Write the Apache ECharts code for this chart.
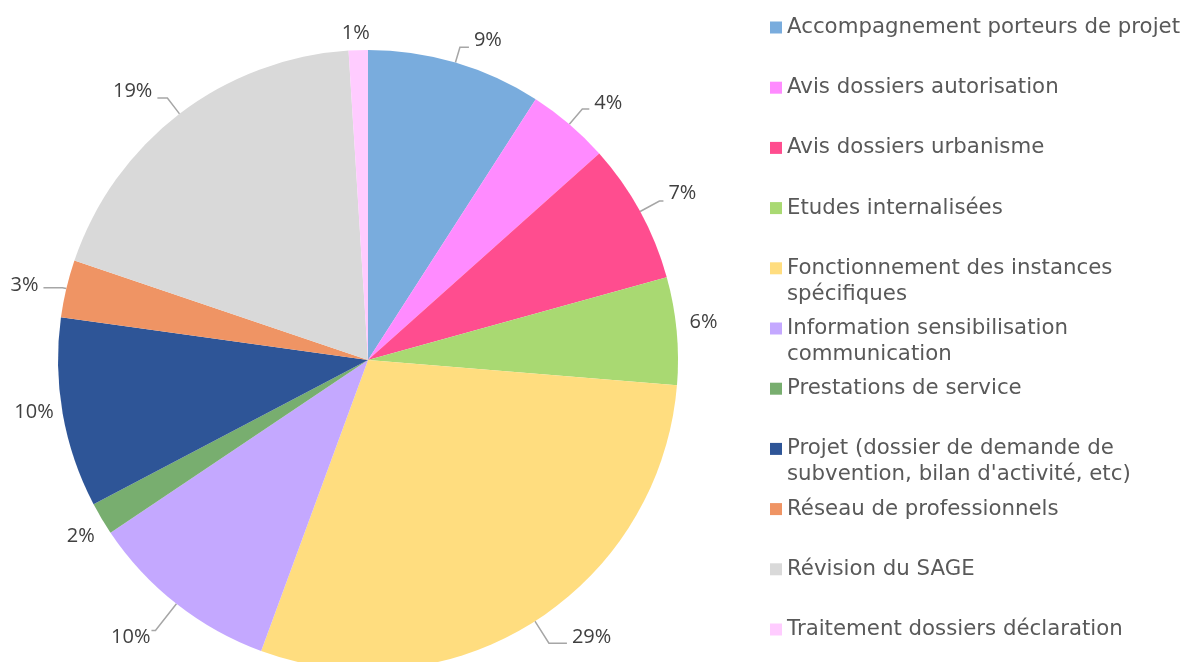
<!DOCTYPE html>
<html>
<head>
<meta charset="utf-8">
<script src="https://cdn.jsdelivr.net/npm/echarts@6/dist/echarts.min.js"></script>
<style>
  html, body { margin: 0; padding: 0; background: #fff; }
  #chart { width: 1185px; height: 662px; }
</style>
</head>
<body>
<div id="chart"></div>
<script>
(function(){
  // Catégories et parts (en %)
  const categories = [
    "Accompagnement porteurs de projet",
    "Avis dossiers autorisation",
    "Avis dossiers urbanisme",
    "Etudes internalisées",
    "Fonctionnement des instances spécifiques",
    "Information sensibilisation communication",
    "Prestations de service",
    "Projet (dossier de demande de subvention, bilan d'activité, etc)",
    "Réseau de professionnels",
    "Révision du SAGE",
    "Traitement dossiers déclaration"
  ];
  const shares = [9.1, 4.3, 7.3, 5.6, 29.3, 10.0, 1.7, 9.9, 3.0, 18.8, 1.0];
  // libellés de légende coupés comme dans l'original
  const legendLabels = [
    "Accompagnement porteurs de projet",
    "Avis dossiers autorisation",
    "Avis dossiers urbanisme",
    "Etudes internalisées",
    "Fonctionnement des instances\nspécifiques",
    "Information sensibilisation\ncommunication",
    "Prestations de service",
    "Projet (dossier de demande de\nsubvention, bilan d'activité, etc)",
    "Réseau de professionnels",
    "Révision du SAGE",
    "Traitement dossiers déclaration"
  ];
  const colors = [
    "#79acdd", "#ff8bff", "#ff4d8f", "#a9d972", "#ffdd7f", "#c4a8ff",
    "#78ae6f", "#2e5597", "#ef9464", "#d9d9d9", "#ffccff"
  ];

  // réglages des étiquettes (style façon Excel) : traits de rappel et décalages du texte
  const showLine  = [true, true, true, false, true, true, false, false, true, true, false];
  const lineLen   = [16, 20, 22, 6, 26, 34, 8, 4, 4, 20, 15];
  const lineLen2  = [9, 7, 4, 2, 18, 4, 0, 0, 19, 10, 0];
  const shiftY    = [-7, -6, -8, -8, -6, 7, 14, -2, -2, -7, -2];
  const shiftX    = [0, 0, 0, 0, 0, 4, 5, 0, 0, 0, 17];

  const chart = echarts.init(document.getElementById("chart"));

  const LINE_H = 26;
  const legends = categories.map((name, i) => {
    const twoLines = legendLabels[i].indexOf("\n") >= 0;
    const centerY = 27.5 + 60.2 * i;
    return {
      orient: "vertical",
      left: 770,
      top: centerY - (twoLines ? 39 : 13),
      padding: 0,
      icon: "rect",
      itemWidth: 12,
      itemHeight: 12,
      selectedMode: false,
      data: [name],
      // ligne vide en tête pour garder le carré au niveau de la 1re ligne
      formatter: () => (twoLines ? "\n" : "") + legendLabels[i],
      textStyle: {
        fontFamily: "DejaVu Sans",
        fontSize: 21.3,
        color: "#595959",
        lineHeight: LINE_H
      }
    };
  });

  const data = categories.map((name, i) => {
    const sy = shiftY[i];
    const sx = shiftX[i];
    return {
      name: name,
      value: shares[i],
      itemStyle: { color: colors[i] },
      label: {
        lineHeight: sy ? Math.abs(sy) * 2 : 24,
        padding: [0, -sx, 0, sx]
      },
      labelLine: { show: showLine[i], length: lineLen[i], length2: lineLen2[i] }
    };
  });

  chart.setOption({
    animation: false,
    legend: legends,
    series: [{
      type: "pie",
      center: [368, 360],
      radius: 310,
      startAngle: 90,
      clockwise: true,
      avoidLabelOverlap: false,
      data: data,
      itemStyle: { borderWidth: 0 },
      label: {
        show: true,
        position: "outside",
        formatter: p => {
          const txt = Math.round(p.percent) + "%";
          const sy = shiftY[p.dataIndex];
          if (sy < 0) return txt + "\n";
          if (sy > 0) return "\n" + txt;
          return txt;
        },
        fontFamily: "Open Sans",
        fontSize: 20,
        color: "#404040"
      },
      labelLine: {
        show: true,
        smooth: false,
        lineStyle: { color: "#a6a6a6", width: 1.5 }
      },
      emphasis: { disabled: true }
    }]
  });

  window.addEventListener("resize", () => chart.resize());
})();
</script>
</body>
</html>
